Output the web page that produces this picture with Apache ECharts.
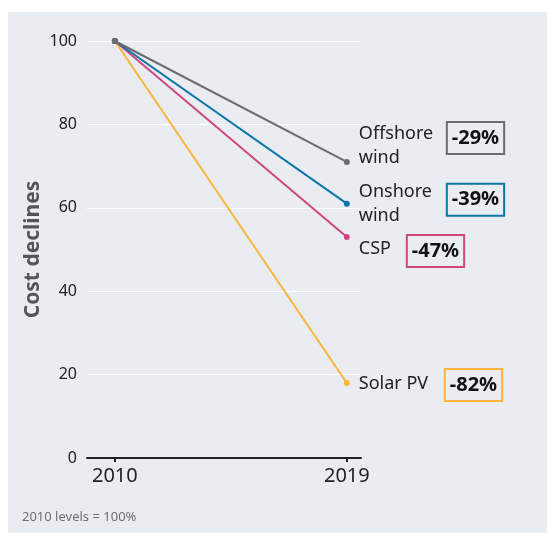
<!DOCTYPE html>
<html>
<head>
<meta charset="utf-8">
<script src="https://cdn.jsdelivr.net/npm/echarts@6/dist/echarts.min.js"></script>
<style>
  html, body { margin: 0; padding: 0; background: #fff; }
  #chart { width: 547px; height: 534px; }
</style>
</head>
<body>
<div id="chart"></div>
<script>
// years on the x axis
const years = [2010, 2019];
// technologies (drawn back to front)
const names = ["Solar PV", "CSP", "Onshore wind", "Offshore wind"];
const labels = ["Solar PV", "CSP", "Onshore\nwind", "Offshore\nwind"];
const solarPV = [100, 18];
const csp = [100, 53];
const onshore = [100, 61];
const offshore = [100, 71];
const declines = ["-82%", "-47%", "-39%", "-29%"];
const yTicks = [0, 20, 40, 60, 80, 100];

const colors = ["#fbb53a", "#cf4880", "#0b76a8", "#6b6c70"];
const values = [solarPV, csp, onshore, offshore];
// label placement relative to the 2019 point
const nameOffset = [[15, -8], [15, 3], [15, -21], [15, -37]];
const boxOffset = [[98, -14], [60, -2], [100, -20], [100, -40]];

const font = "'Noto Sans', sans-serif";
const chart = echarts.init(document.getElementById("chart"));

const series = names.map(function (name, i) {
  const data = years.map(function (y, j) {
    const item = { value: [y, values[i][j]] };
    if (j === years.length - 1) {
      item.label = {
        show: true,
        position: nameOffset[i],
        formatter: labels[i],
        color: "#222",
        fontSize: 18,
        lineHeight: 24,
        fontFamily: font
      };
    }
    return item;
  });
  const last = data[data.length - 1].value;
  return {
    name: name,
    type: "line",
    data: data,
    symbol: "circle",
    symbolSize: 6,
    lineStyle: { color: colors[i], width: 2 },
    itemStyle: { color: colors[i] },
    z: 2 + i,
    animation: false,
    markPoint: {
      symbol: "circle",
      symbolSize: 0,
      data: [{ coord: last }],
      label: {
        show: true,
        position: boxOffset[i],
        formatter: declines[i],
        color: "#111",
        fontSize: 20,
        fontWeight: "bold",
        lineHeight: 24,
        fontFamily: font,
        padding: [4, 5, 4, 5],
        borderColor: colors[i],
        borderWidth: 2
      }
    }
  };
});

chart.setOption({
  backgroundColor: "#fff",
  textStyle: { fontFamily: font },
  graphic: [
    {
      type: "rect",
      left: 8, top: 12,
      shape: { width: 539, height: 521 },
      style: { fill: "#e9ecf1" },
      z: -10
    },
    {
      type: "text",
      left: 22, top: 511,
      style: { text: "2010 levels = 100%", fill: "#6f6f6f", fontSize: 13, fontFamily: font }
    }
  ],
  grid: { left: 87, right: 186, top: 41, bottom: 76 },
  xAxis: {
    type: "value",
    min: 2008.92,
    max: 2019.55,
    splitLine: { show: false },
    axisLine: { show: true, lineStyle: { color: "#222", width: 2 } },
    axisTick: { show: true, length: 4, customValues: years, lineStyle: { color: "#222", width: 2 } },
    axisLabel: {
      customValues: years, color: "#222", fontSize: 20, margin: 8, fontFamily: font,
      formatter: function (v) { return String(v); }
    }
  },
  yAxis: {
    type: "value",
    min: 0,
    max: 100,
    interval: 20,
    name: "Cost declines",
    nameLocation: "middle",
    nameRotate: 90,
    nameGap: 43,
    nameMoveOverlap: false,
    nameTextStyle: { color: "#555", fontSize: 21, fontWeight: "bold", fontFamily: font },
    axisLine: { show: false },
    axisTick: { show: false },
    axisLabel: {
      color: "#222", fontSize: 16, margin: 10, fontFamily: font,
      formatter: function (v) { return yTicks.indexOf(v) >= 0 ? String(v) : ""; }
    },
    splitLine: { show: true, lineStyle: { color: "#fff", width: 1 } }
  },
  series: series
});
</script>
</body>
</html>
